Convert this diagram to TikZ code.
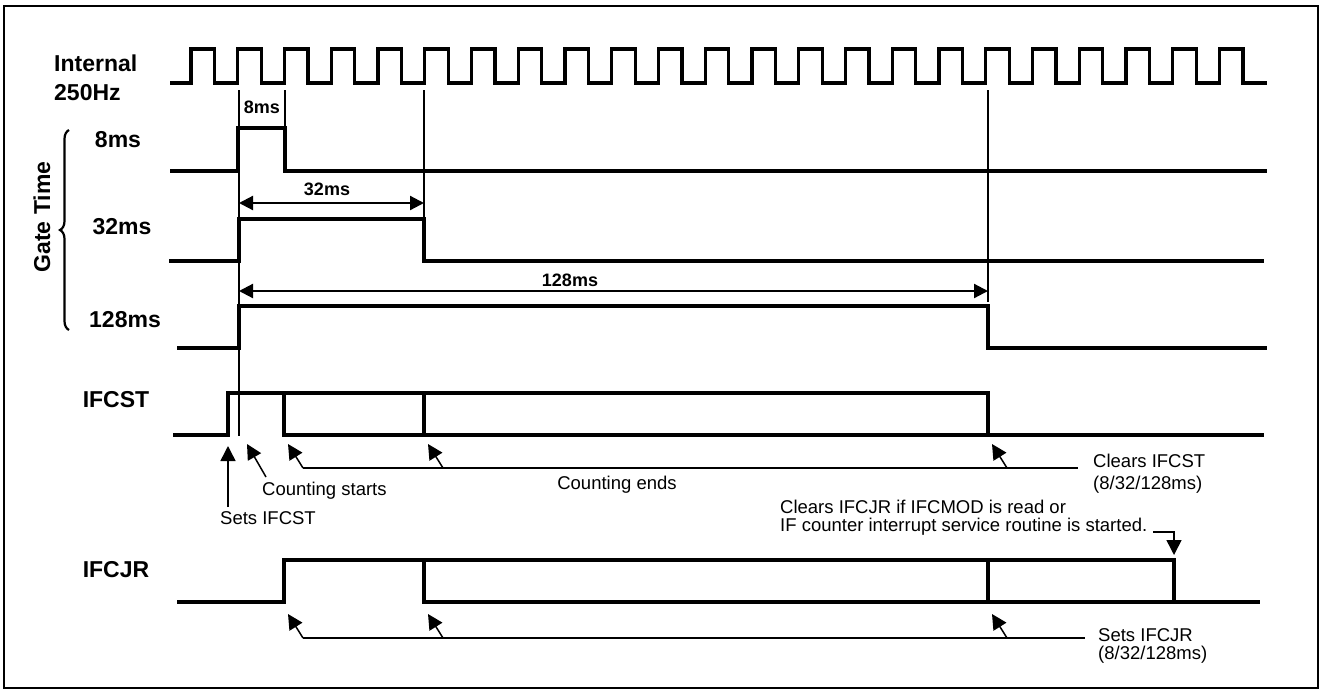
\documentclass[tikz,border=0pt]{standalone}
\usepackage{fontspec}
\setmainfont{Liberation Sans}
\usetikzlibrary{positioning,arrows.meta,decorations.pathreplacing}

\begin{document}
\begin{tikzpicture}[x=1pt, y=-1pt,
  every node/.style={inner sep=0pt},
  siglab/.style={font=\fontsize{23}{29}\selectfont\bfseries, align=left},
  dimlab/.style={font=\fontsize{18}{21}\selectfont\bfseries},
  note/.style={font=\fontsize{18.5}{18.5}\selectfont, align=left},
  wave/.style={line width=3.4pt, line join=miter},
  marker/.style={line width=2.2pt},
  dimarr/.style={line width=2.2pt, {Triangle[length=14pt,width=14pt]}-{Triangle[length=14pt,width=14pt]}},
  callout/.style={line width=1.5pt, -{Triangle[length=15pt,width=15pt]}},
  lead/.style={line width=1.5pt}]

\useasboundingbox (0,0) rectangle (1322,694);
\draw[line width=1.2pt] (4,6) rectangle (1318,688);

% signal names
\node[siglab, anchor=west] (clk) at (54,77.5) {Internal\\250Hz};
\node[siglab] (g8) at (118,140) {8ms};
\node[siglab] (g32) at (122,227) {32ms};
\node[siglab] (g128) at (125,320) {128ms};
\node[siglab, rotate=90] (gate) at (42,217) {Gate Time};
\node[siglab] (ifcst) at (116,400) {IFCST};
\node[siglab] (ifcjr) at (116,570) {IFCJR};
\draw[line width=2.2pt, decorate, decoration={brace, amplitude=9pt}] (69,330) -- (69,130);

% 250Hz clock
\draw[wave] (170,83) foreach \k in {0,...,22} { -- ({191+46.75*\k},83) -- ++(0,-34) -- ++(23.5,0) -- ++(0,34) } -- (1267,83);

% gate time waveforms
\draw[wave] (170,171) -- (238,171) -- (238,128) -- (285,128) -- (285,171) -- (1267,171);
\draw[wave] (169,261) -- (239,261) -- (239,219) -- (424,219) -- (424,261) -- (1264,261);
\draw[wave] (177,348) -- (239,348) -- (239,306) -- (988,306) -- (988,348) -- (1267,348);

% markers
\draw[marker] (239,90) -- (239,436);
\draw[marker] (285,90) -- (285,128);
\draw[marker] (424,90) -- (424,217);
\draw[marker] (988,90) -- (988,302);

% widths
\node[dimlab] (w8) at (262,107) {8ms};
\draw[dimarr] (239,203) coordinate (a32) -- (424,203) coordinate (b32);
\node[dimlab] (w32) at (327,189) {32ms};
\draw[dimarr] (239,291) coordinate (a128) -- (988,291) coordinate (b128);
\node[dimlab] (w128) at (570,280) {128ms};

% IFCST
\draw[wave] (173,435) -- (228,435) -- (228,393) -- (988,393) -- (988,435) -- (1264,435);
\draw[wave] (284,393) -- (284,435) -- (988,435);
\draw[wave] (424,393) -- (424,435);

\coordinate (setst) at (228,446);
\draw[callout] (228,507) -- (setst);
\node[note, anchor=west] (lsetst) at (220,518) {Sets IFCST};
\coordinate (cstart) at (247,444);
\draw[callout] (266,477) -- (cstart);
\node[note, anchor=west] (lcstart) at (262,491) {Counting starts};
\draw[lead] (303,468) coordinate (ce0) -- (1078,468) coordinate (ce1);
\foreach \x in {288,428,992} \draw[callout] ({\x+15},468) -- (\x,444);
\node[note] (lcend) at (617,485) {Counting ends};
\node[note, anchor=west] (lclrst) at (1093,473.5) {Clears IFCST\\[3pt](8/32/128ms)};

% IFCJR
\node[note, anchor=west] (lclrjr) at (780,517.5) {Clears IFCJR if IFCMOD is read or\\IF counter interrupt service routine is started.};
\draw[callout] (1153,532) -| (1174,555);
\draw[wave] (177,602) -- (284,602) -- (284,560) -- (1174,560) -- (1174,602) -- (1260,602);
\draw[wave] (424,560) -- (424,602) -- (1174,602);
\draw[wave] (988,560) -- (988,602);

\draw[lead] (303,638) coordinate (sj0) -- (1085,638) coordinate (sj1);
\foreach \x in {288,428,992} \draw[callout] ({\x+15},638) -- (\x,614);
\node[note, anchor=west] (lsetjr) at (1098,646) {Sets IFCJR\\(8/32/128ms)};
\end{tikzpicture}
\end{document}
